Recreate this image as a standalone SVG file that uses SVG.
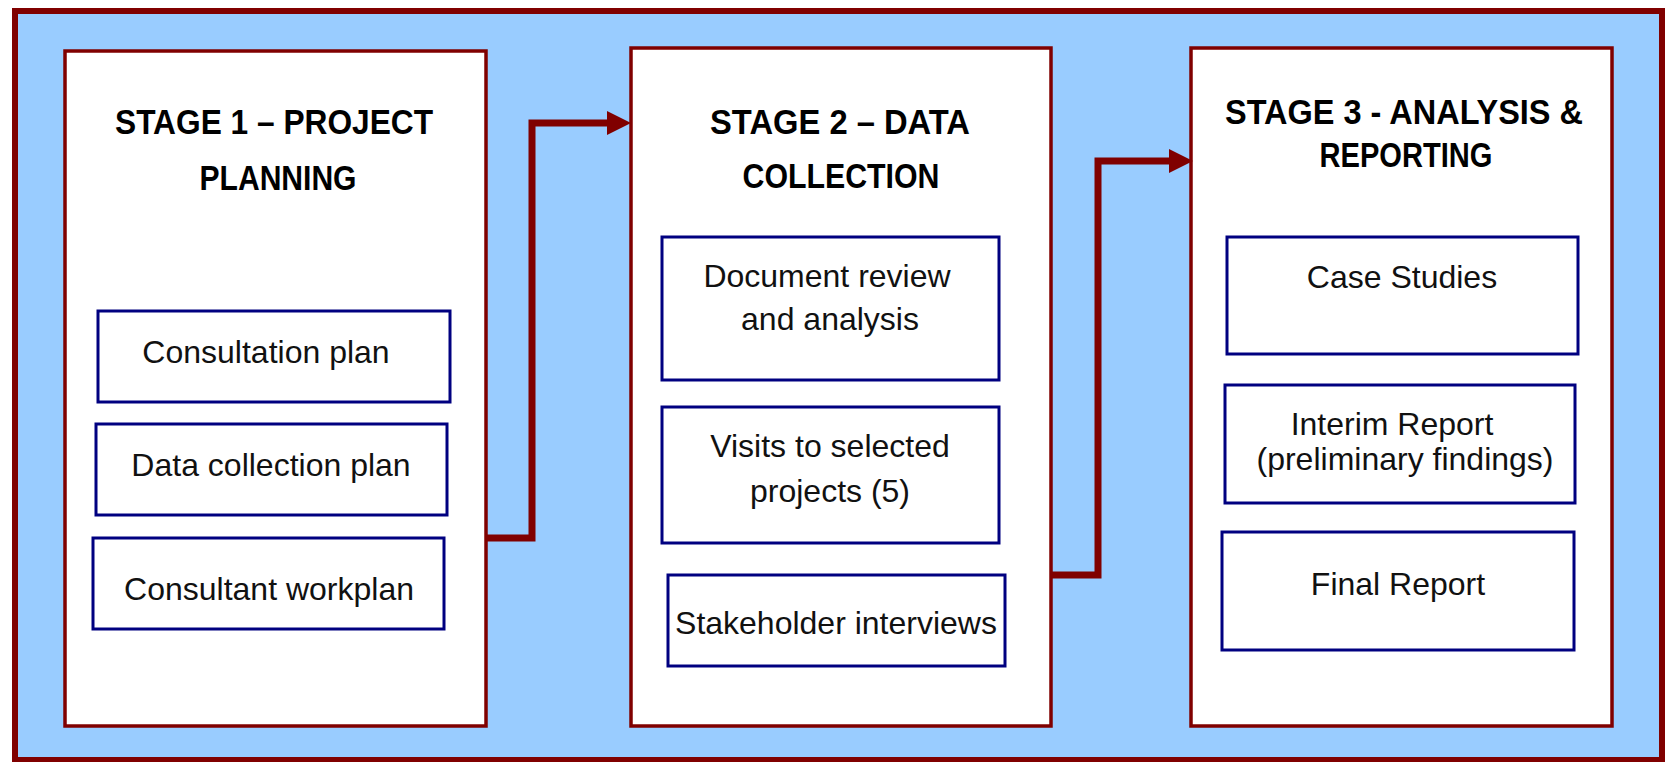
<svg xmlns="http://www.w3.org/2000/svg" width="1671" height="762" viewBox="0 0 1671 762">
<defs>
<style>
.stage{fill:#fff;stroke:#800000;stroke-width:3.5}
.item{fill:#fff;stroke:#000080;stroke-width:3}
.hd{font-family:"Liberation Sans",Arial,sans-serif;font-weight:bold;font-size:35px;fill:#000;text-anchor:middle}
.tx{font-family:"Liberation Sans",Arial,sans-serif;font-size:32px;fill:#111;text-anchor:middle}
.conn{fill:none;stroke:#800000;stroke-width:7;stroke-linejoin:miter}
</style>
<marker id="arr" markerUnits="userSpaceOnUse" markerWidth="26" markerHeight="26" refX="0" refY="12" orient="auto">
<path d="M0,0 L24,12 L0,24 Z" fill="#800000"/>
</marker>
</defs>
<rect x="15" y="11" width="1647" height="749" fill="#99CCFF" stroke="#800000" stroke-width="6"/>
<g id="stage1">
<rect class="stage" x="65" y="51" width="421" height="675"/>
<text class="hd" x="274" y="134" textLength="318" lengthAdjust="spacingAndGlyphs">STAGE 1 – PROJECT</text>
<text class="hd" x="278" y="190" textLength="157" lengthAdjust="spacingAndGlyphs">PLANNING</text>
</g>
<g id="consultation-plan">
<rect class="item" x="98" y="311" width="352" height="91"/>
<text class="tx" x="266" y="363">Consultation plan</text>
</g>
<g id="data-collection-plan">
<rect class="item" x="96" y="424" width="351" height="91"/>
<text class="tx" x="271" y="476">Data collection plan</text>
</g>
<g id="consultant-workplan">
<rect class="item" x="93" y="538" width="351" height="91"/>
<text class="tx" x="269" y="600">Consultant workplan</text>
</g>
<g id="stage2">
<rect class="stage" x="631" y="48" width="420" height="678"/>
<text class="hd" x="840" y="134" textLength="260" lengthAdjust="spacingAndGlyphs">STAGE 2 – DATA</text>
<text class="hd" x="841" y="188" textLength="197" lengthAdjust="spacingAndGlyphs">COLLECTION</text>
</g>
<g id="document-review">
<rect class="item" x="662" y="237" width="337" height="143"/>
<text class="tx" x="827" y="287">Document review</text>
<text class="tx" x="830" y="330">and analysis</text>
</g>
<g id="visits">
<rect class="item" x="662" y="407" width="337" height="136"/>
<text class="tx" x="830" y="457">Visits to selected</text>
<text class="tx" x="830" y="502">projects (5)</text>
</g>
<g id="stakeholder-interviews">
<rect class="item" x="668" y="575" width="337" height="91"/>
<text class="tx" x="836" y="634">Stakeholder interviews</text>
</g>
<g id="stage3">
<rect class="stage" x="1191" y="48" width="421" height="678"/>
<text class="hd" x="1404" y="124" textLength="358" lengthAdjust="spacingAndGlyphs">STAGE 3 - ANALYSIS &amp;</text>
<text class="hd" x="1406" y="167" textLength="173" lengthAdjust="spacingAndGlyphs">REPORTING</text>
</g>
<g id="case-studies">
<rect class="item" x="1227" y="237" width="351" height="117"/>
<text class="tx" x="1402" y="288">Case Studies</text>
</g>
<g id="interim-report">
<rect class="item" x="1225" y="385" width="350" height="118"/>
<text class="tx" x="1392" y="435">Interim Report</text>
<text class="tx" x="1405" y="470">(preliminary findings)</text>
</g>
<g id="final-report">
<rect class="item" x="1222" y="532" width="352" height="118"/>
<text class="tx" x="1398" y="595">Final Report</text>
</g>
<g id="connectors">
<path class="conn" d="M486 538 H532 V123 H607" marker-end="url(#arr)"/>
<path class="conn" d="M1051 575 H1098 V161 H1169" marker-end="url(#arr)"/>
</g>
</svg>
